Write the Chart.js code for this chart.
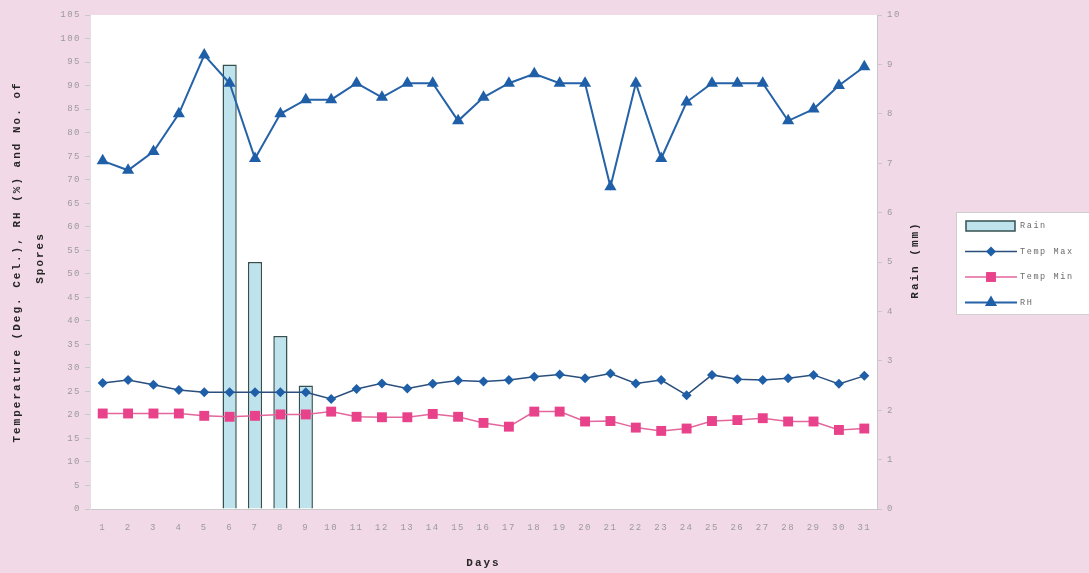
<!DOCTYPE html>
<html>
<head>
<meta charset="utf-8">
<title>Daily weather and rainfall</title>
<script src="https://cdn.jsdelivr.net/npm/chart.js@4.4.0/dist/chart.umd.min.js"></script>
<style>
  html, body { margin: 0; padding: 0; background: #f2d9e7; }
  #wrap { width: 1089px; height: 573px; position: relative; }
</style>
</head>
<body>
<div id="wrap"><canvas id="chart" width="1089" height="573"></canvas></div>
<script>
// Days of the month
const days = ['1','2','3','4','5','6','7','8','9','10','11','12','13','14','15','16',
              '17','18','19','20','21','22','23','24','25','26','27','28','29','30','31'];

// Daily rainfall (mm), right axis; null = no rain
const rainMm = [null, null, null, null, null, 9, 5, 3.5, 2.5, null, null, null, null, null, null, null,
                null, null, null, null, null, null, null, null, null, null, null, null, null, null, null];

// Maximum temperature (deg C)
const tempMax = [26.8, 27.4, 26.4, 25.3, 24.8, 24.8, 24.8, 24.8, 24.8, 23.4, 25.5, 26.7, 25.6, 26.6, 27.3, 27.1,
                 27.4, 28.1, 28.6, 27.8, 28.8, 26.7, 27.4, 24.2, 28.5, 27.6, 27.4, 27.8, 28.5, 26.6, 28.3];

// Minimum temperature (deg C)
const tempMin = [20.3, 20.3, 20.3, 20.3, 19.8, 19.6, 19.8, 20.1, 20.1, 20.7, 19.6, 19.5, 19.5, 20.2, 19.6, 18.3,
                 17.5, 20.7, 20.7, 18.6, 18.7, 17.3, 16.6, 17.1, 18.7, 18.9, 19.3, 18.6, 18.6, 16.8, 17.1];

// Relative humidity (%)
const relHumidity = [74, 72, 76, 84, 96.5, 90.5, 74.5, 84, 87, 87, 90.5, 87.5, 90.5, 90.5, 82.5, 87.5,
                     90.5, 92.5, 90.5, 90.5, 68.5, 90.5, 74.5, 86.5, 90.5, 90.5, 90.5, 82.5, 85, 90, 94];

// Axis ranges and titles
const leftAxisRange = [0, 105, 5];
const rightAxisRange = [0, 10, 1];
const leftTitle = ['Temperature (Deg. Cel.), RH (%) and No. of', 'Spores'];
const rightTitle = 'Rain (mm)';
const bottomTitle = 'Days';
const seriesNames = ['Rain', 'Temp Max', 'Temp Min', 'RH'];

const PAGE_BG = '#f2d9e7';
const TICK_FONT = { family: '"Liberation Mono", "DejaVu Sans Mono", monospace', size: 9 };
const TICK_COLOR = '#9a9a9a';
const AXIS_COLOR = '#c9c9c9';

// Pink page, white plotting area, letter spacing for tick text
const backdrop = {
  id: 'backdrop',
  beforeDraw(chart) {
    const { ctx, chartArea: a } = chart;
    ctx.save();
    ctx.fillStyle = PAGE_BG;
    ctx.fillRect(0, 0, chart.width, chart.height);
    ctx.fillStyle = '#ffffff';
    ctx.fillRect(a.left, a.top, a.right - a.left, a.bottom - a.top);
    ctx.restore();
    ctx.letterSpacing = '1.5px';
  }
};

function drawMarker(ctx, style, x, y, r) {
  ctx.beginPath();
  if (style === 'triangle') {
    ctx.moveTo(x, y - r);
    ctx.lineTo(x + r * 0.866, y + r * 0.5);
    ctx.lineTo(x - r * 0.866, y + r * 0.5);
  } else if (style === 'rectRot') {
    ctx.moveTo(x, y - r); ctx.lineTo(x + r, y); ctx.lineTo(x, y + r); ctx.lineTo(x - r, y);
  } else {
    const s = r * Math.SQRT1_2;
    ctx.rect(x - s, y - s, 2 * s, 2 * s);
  }
  ctx.closePath();
  ctx.fill();
}

// Axis titles and the boxed legend
const decorations = {
  id: 'decorations',
  afterDraw(chart) {
    const { ctx, chartArea: a } = chart;
    const cy = (a.top + a.bottom) / 2;
    ctx.save();
    ctx.fillStyle = '#262626';
    ctx.font = 'bold 11px "Liberation Mono", "DejaVu Sans Mono", monospace';
    ctx.letterSpacing = '2px';
    ctx.textAlign = 'center';
    ctx.textBaseline = 'middle';

    const verticalText = (text, x, y) => {
      ctx.save();
      ctx.translate(x, y);
      ctx.rotate(-Math.PI / 2);
      ctx.fillText(text, 0, 0);
      ctx.restore();
    };
    verticalText(leftTitle[0], 17, cy);
    verticalText(leftTitle[1], 40, cy - 4);
    verticalText(rightTitle, 915, cy - 2);
    ctx.fillText(bottomTitle, (a.left + a.right) / 2, 563);

    // legend box
    const lx = 956, ly = 212, lw = 140, lh = 102;
    ctx.fillStyle = '#ffffff';
    ctx.fillRect(lx, ly, lw, lh);
    ctx.strokeStyle = '#cfcfcf';
    ctx.lineWidth = 1;
    ctx.strokeRect(lx + 0.5, ly + 0.5, lw, lh);

    ctx.font = '8.5px "Liberation Mono", "DejaVu Sans Mono", monospace';
    ctx.letterSpacing = '1.6px';
    ctx.textAlign = 'left';
    const ds = chart.data.datasets;
    ds.forEach((d, i) => {
      const y = 226 + i * 25.5;
      if (d.type === 'bar') {
        ctx.fillStyle = d.backgroundColor;
        ctx.fillRect(966, y - 5, 49, 10);
        ctx.strokeStyle = d.borderColor;
        ctx.lineWidth = 1.5;
        ctx.strokeRect(966, y - 5, 49, 10);
      } else {
        ctx.strokeStyle = d.borderColor;
        ctx.lineWidth = d.borderWidth;
        ctx.beginPath();
        ctx.moveTo(965, y);
        ctx.lineTo(1017, y);
        ctx.stroke();
        ctx.fillStyle = d.pointBackgroundColor;
        drawMarker(ctx, d.pointStyle, 991, y, d.pointRadius);
      }
      ctx.fillStyle = '#6a6a6a';
      ctx.fillText(d.label, 1020, y);
    });
    ctx.restore();
  }
};

new Chart(document.getElementById('chart'), {
  data: {
    labels: days,
    datasets: [
      {
        type: 'bar', label: seriesNames[0], data: rainMm, yAxisID: 'yR',
        backgroundColor: '#bfe3ec', borderColor: '#34504f', borderWidth: 1.5,
        barPercentage: 0.56, categoryPercentage: 1, order: 5
      },
      {
        type: 'line', label: seriesNames[1], data: tempMax, yAxisID: 'yL',
        borderColor: '#2a4f7c', borderWidth: 1.5,
        pointStyle: 'rectRot', pointRadius: 5,
        pointBackgroundColor: '#1f5fa8', pointBorderColor: '#1f5fa8', pointBorderWidth: 0,
        tension: 0, order: 2
      },
      {
        type: 'line', label: seriesNames[2], data: tempMin, yAxisID: 'yL',
        borderColor: '#e3669c', borderWidth: 1.5,
        pointStyle: 'rect', pointRadius: 7,
        pointBackgroundColor: '#e8428a', pointBorderColor: '#e8428a', pointBorderWidth: 0,
        tension: 0, order: 3
      },
      {
        type: 'line', label: seriesNames[3], data: relHumidity, yAxisID: 'yL',
        borderColor: '#2562a8', borderWidth: 2,
        pointStyle: 'triangle', pointRadius: 7,
        pointBackgroundColor: '#1f5fa8', pointBorderColor: '#1f5fa8', pointBorderWidth: 0,
        tension: 0, order: 1
      }
    ]
  },
  options: {
    responsive: false,
    animation: false,
    layout: { padding: { top: 15, left: 0, right: 0, bottom: 0 } },
    plugins: { legend: { display: false }, tooltip: { enabled: false } },
    scales: {
      x: {
        type: 'category',
        offset: true,
        grid: { display: false, drawTicks: false },
        border: { display: true, color: AXIS_COLOR, width: 1 },
        ticks: { font: TICK_FONT, color: TICK_COLOR, padding: 13, maxRotation: 0, autoSkip: false },
        afterFit(s) { s.height = 64; }
      },
      yL: {
        position: 'left',
        min: leftAxisRange[0], max: leftAxisRange[1],
        grid: { display: true, drawOnChartArea: false, drawTicks: true, tickLength: 5, color: AXIS_COLOR },
        border: { display: true, color: '#e0e0e0', width: 1 },
        ticks: { stepSize: leftAxisRange[2], font: TICK_FONT, color: TICK_COLOR, padding: 4, autoSkip: false },
        afterFit(s) { s.width = 90; }
      },
      yR: {
        position: 'right',
        min: rightAxisRange[0], max: rightAxisRange[1],
        grid: { display: true, drawOnChartArea: false, drawTicks: true, tickLength: 5, color: AXIS_COLOR },
        border: { display: true, color: AXIS_COLOR, width: 1 },
        ticks: { stepSize: rightAxisRange[2], font: TICK_FONT, color: TICK_COLOR, padding: 5, autoSkip: false },
        afterFit(s) { s.width = 212; }
      }
    }
  },
  plugins: [backdrop, decorations]
});
</script>
</body>
</html>
